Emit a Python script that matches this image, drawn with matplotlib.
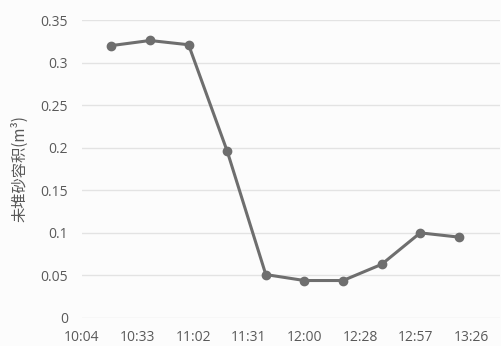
import matplotlib
matplotlib.use("Agg")
import matplotlib.pyplot as plt

# Observation times and remaining sediment-storage volume
times = ["10:20", "10:40", "11:00", "11:20", "11:40", "12:00", "12:20", "12:40", "13:00", "13:20"]
volumes = [0.320, 0.326, 0.321, 0.196, 0.051, 0.044, 0.044, 0.063, 0.100, 0.095]

# Axis ticks (time-of-day fractions) and their labels
x_ticks = [0.42, 0.44, 0.46, 0.48, 0.50, 0.52, 0.54, 0.56]
x_tick_labels = ["10:04", "10:33", "11:02", "11:31", "12:00", "12:28", "12:57", "13:26"]
y_ticks = [0, 0.05, 0.1, 0.15, 0.2, 0.25, 0.3, 0.35]
y_tick_labels = ["0", "0.05", "0.1", "0.15", "0.2", "0.25", "0.3", "0.35"]


def day_fraction(t):
    h, m = t.split(":")
    return (int(h) * 60 + int(m)) / 1440.0


xs = [day_fraction(t) for t in times]

plt.rcParams["font.family"] = ["Open Sans", "Noto Sans CJK SC", "DejaVu Sans"]

fig = plt.figure(figsize=(5.01, 3.46), dpi=100, facecolor="#fcfcfc")
ax = fig.add_axes([0.1637, 0.081, 0.834, 0.861])
ax.set_facecolor("#fcfcfc")

ax.plot(xs, volumes, color="#6e6e6e", lw=2.2, marker="o", ms=6,
        markerfacecolor="#6e6e6e", markeredgecolor="#6e6e6e", zorder=3)

ax.set_xlim(0.42, 0.5703)
ax.set_ylim(0, 0.35)
ax.set_xticks(x_ticks)
ax.set_xticklabels(x_tick_labels)
ax.set_yticks(y_ticks)
ax.set_yticklabels(y_tick_labels)

ax.grid(axis="y", color="#e3e3e3", lw=1.0, zorder=0)
for s in ax.spines.values():
    s.set_visible(False)
ax.tick_params(axis="both", length=0, colors="#595959", labelsize=10)
ax.tick_params(axis="y", pad=10)
ax.tick_params(axis="x", pad=9)

ax.set_ylabel("未堆砂容积(m³)", family=["Noto Sans CJK SC", "DejaVu Sans"],
              fontsize=11, color="#595959", labelpad=9)

fig.savefig("out.png", dpi=100, facecolor=fig.get_facecolor())
